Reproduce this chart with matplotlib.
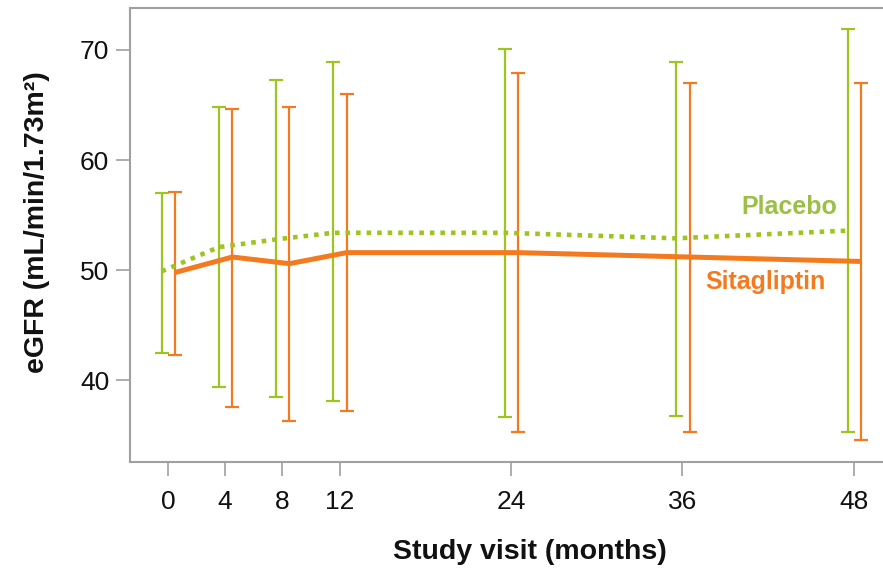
import matplotlib
matplotlib.use('Agg')
import matplotlib.pyplot as plt
import numpy as np

# data
months = [0, 4, 8, 12, 24, 36, 48]
placebo_mean = [49.9, 52.1, 52.8, 53.4, 53.4, 52.9, 53.6]
placebo_low = [42.5, 39.4, 38.5, 38.1, 36.7, 36.8, 35.3]
placebo_high = [57.0, 64.8, 67.3, 68.9, 70.1, 68.9, 71.9]
sita_mean = [49.8, 51.2, 50.6, 51.6, 51.6, 51.2, 50.8]
sita_low = [42.3, 37.6, 36.3, 37.2, 35.3, 35.3, 34.6]
sita_high = [57.1, 64.6, 64.8, 66.0, 67.9, 67.0, 67.0]
yticks = [40, 50, 60, 70]

green = '#9dc41f'
orange = '#f47a20'
gray = '#a0a0a0'

plt.rcParams['font.family'] = ['Liberation Sans', 'DejaVu Sans']

fig = plt.figure(figsize=(8.83, 5.73), dpi=100)
ax = fig.add_axes([130 / 883, 1 - 462 / 573, 1 - 130 / 883, (462 - 8) / 573])

x = np.array(months, dtype=float)
pm, pl, ph = map(np.array, (placebo_mean, placebo_low, placebo_high))
sm, sl, sh = map(np.array, (sita_mean, sita_low, sita_high))

# error bars, slightly offset either side of the visit
ax.errorbar(x - 0.45, pm, yerr=[pm - pl, ph - pm], fmt='none', ecolor=green,
            elinewidth=1.6, capsize=5, capthick=1.6, zorder=2)
ax.errorbar(x + 0.5, sm, yerr=[sm - sl, sh - sm], fmt='none', ecolor=orange,
            elinewidth=1.6, capsize=5, capthick=1.6, zorder=2)

# mean lines
ax.plot(x - 0.45, pm, color=green, lw=3.3, linestyle=(0, (1, 1.3)), zorder=3)
ax.plot(x + 0.5, sm, color=orange, lw=3.6, solid_capstyle='butt', zorder=3)

ax.text(46.8, 55.7, 'Placebo', color='#9cbf45', fontsize=18, fontweight='bold',
        ha='right', va='center')
ax.text(46.0, 48.9, 'Sitagliptin', color=orange, fontsize=18, fontweight='bold',
        ha='right', va='center')

ax.set_xlim(-2.66, 50.03)
ax.set_ylim(32.6, 73.8)
ax.set_xticks(months)
ax.set_yticks(yticks)
ax.tick_params(axis='both', colors=gray, labelcolor='#111111', labelsize=19,
               length=10, width=1.2)
ax.tick_params(axis='x', pad=10)
ax.tick_params(axis='y', pad=5)

for s in ['left', 'bottom', 'top']:
    ax.spines[s].set_color(gray)
    ax.spines[s].set_linewidth(1.5)
ax.spines['right'].set_visible(False)

fig.text(530 / 883, 1 - 552 / 573, 'Study visit (months)', fontsize=20.5,
         fontweight='bold', ha='center', va='center', color='#111111')
fig.text(37 / 883, 1 - 222 / 573, 'eGFR (mL/min/1.73m\u00b2)', fontsize=20.5,
         fontweight='bold', ha='center', va='center', rotation=90,
         color='#111111')

fig.savefig('out.png', dpi=100)
